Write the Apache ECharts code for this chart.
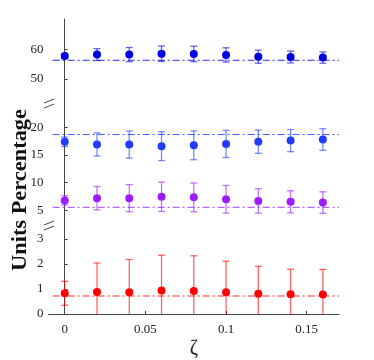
<!DOCTYPE html>
<html><head><meta charset="utf-8">
<script src="https://cdn.jsdelivr.net/npm/echarts@6/dist/echarts.min.js"></script>
<style>html,body{margin:0;padding:0;background:#fff}#c{width:374px;height:360px}</style>
</head><body><div id="c"></div>
<script>
const zeta = [0, 0.02, 0.04, 0.06, 0.08, 0.10, 0.12, 0.14, 0.16];
const topMean = [57.7, 58.2, 58.2, 58.5, 58.4, 58.1, 57.5, 57.4, 57.2];
const topErr  = [0.8, 2.0, 2.4, 2.6, 2.6, 2.4, 2.2, 2.0, 1.9];
const midMean = [17.4, 16.9, 16.9, 16.6, 16.75, 17.0, 17.4, 17.6, 17.8];
const midErr  = [0.85, 2.1, 2.45, 2.6, 2.6, 2.45, 2.1, 2.0, 1.95];
const purMean = [6.8, 7.2, 7.2, 7.45, 7.35, 7.0, 6.7, 6.55, 6.4];
const purErr  = [0.85, 2.1, 2.45, 2.65, 2.6, 2.5, 2.2, 2.0, 1.95];
const redMean = [0.83, 0.88, 0.87, 0.94, 0.92, 0.87, 0.81, 0.79, 0.78];
const redErr  = [0.48, 1.16, 1.31, 1.41, 1.41, 1.24, 1.1, 1.0, 1.0];
const refTop = 56.3, refMid = 18.7, refPur = 5.55, refRed = 0.72;
const xTicks = [0, 0.05, 0.1, 0.15];
const yTicksTop = [50, 60];
const yTicksMid = [5, 10, 15, 20];
const yTicksBot = [0, 1, 2, 3];
const xRefRange = [-0.0075, 0.17];

const colTop = '#0000e6', colMid = '#1f3cff', colPur = '#9b1cff', colRed = '#ff0000';
const serif = 'Liberation Serif, Times New Roman, serif';
const axisCol = '#444';

const yRanges = [[41.9, 70.2], [2.35, 24.4], [0, 3.56]];

function yAxis(idx, ticks) {
  return {
    type: 'value', gridIndex: idx, min: yRanges[idx][0], max: yRanges[idx][1],
    splitLine: {show: false},
    axisLine: {show: true, lineStyle: {color: axisCol, width: 1}},
    axisTick: {show: true, inside: true, length: 3, customValues: ticks, lineStyle: {color: axisCol}},
    axisLabel: {customValues: ticks, fontFamily: serif, fontSize: 13, color: '#222', margin: 5}
  };
}
function xAxis(idx, show) {
  return {
    type: 'value', gridIndex: idx, min: -0.01, max: 0.17,
    splitLine: {show: false},
    axisLine: {show: show, onZero: false, lineStyle: {color: axisCol, width: 1}},
    axisTick: {show: show, inside: true, length: 3, customValues: xTicks, lineStyle: {color: axisCol}},
    axisLabel: {show: show, customValues: xTicks, fontFamily: serif, fontSize: 13, color: '#222', margin: 9,
      formatter: v => String(v)},
    name: show ? 'ζ' : '', nameLocation: 'middle', nameGap: 25,
    nameTextStyle: {fontFamily: serif, fontSize: 20, color: '#222'}
  };
}
function errSeries(idx, mean, err, col) {
  const data = zeta.map((x, i) => [x, mean[i] - err[i], mean[i] + err[i]]);
  const ymin = yRanges[idx][0];
  return {
    type: 'custom', xAxisIndex: idx, yAxisIndex: idx, z: 2, data: data,
    renderItem: function (params, api) {
      const x = api.value(0); let lo = api.value(1); const hi = api.value(2);
      const clipped = lo < ymin; if (clipped) lo = ymin;
      const p1 = api.coord([x, hi]), p2 = api.coord([x, lo]);
      const w = 3.5;
      const st = {stroke: col, lineWidth: 1.3, opacity: 0.6};
      const ch = [
        {type: 'line', shape: {x1: p1[0], y1: p1[1], x2: p2[0], y2: p2[1]}, style: st},
        {type: 'line', shape: {x1: p1[0] - w, y1: p1[1], x2: p1[0] + w, y2: p1[1]}, style: st}
      ];
      if (!clipped) ch.push({type: 'line', shape: {x1: p2[0] - w, y1: p2[1], x2: p2[0] + w, y2: p2[1]}, style: st});
      return {type: 'group', children: ch};
    }
  };
}
function ptSeries(idx, mean, col) {
  return {type: 'scatter', xAxisIndex: idx, yAxisIndex: idx, z: 5, symbol: 'circle', symbolSize: 8,
    itemStyle: {color: col, opacity: 1}, data: zeta.map((x, i) => [x, mean[i]])};
}
function refSeries(idx, v, col) {
  return {type: 'line', xAxisIndex: idx, yAxisIndex: idx, z: 1, symbol: 'none', silent: true,
    lineStyle: {color: col, width: 1, type: [7, 3, 2, 3], opacity: 0.85},
    data: xRefRange.map(x => [x, v])};
}

const grids = [
  {left: 48.6, width: 290.4, top: 19, height: 84},
  {left: 48.6, width: 290.4, top: 103, height: 122},
  {left: 48.6, width: 290.4, top: 225, height: 95.3}
];

function brk(y) {
  return {type: 'line', shape: {x1: 44, y1: y + 2, x2: 54, y2: y - 2}, style: {stroke: axisCol, lineWidth: 1}, z: 100};
}

const chart = echarts.init(document.getElementById('c'), null, {renderer: 'canvas'});
chart.setOption({
  animation: false,
  backgroundColor: '#fff',
  grid: grids,
  xAxis: [xAxis(0, false), xAxis(1, false), xAxis(2, true)],
  yAxis: [yAxis(0, yTicksTop), yAxis(1, yTicksMid), yAxis(2, yTicksBot)],
  series: [
    refSeries(0, refTop, colTop), errSeries(0, topMean, topErr, colTop), ptSeries(0, topMean, colTop),
    refSeries(1, refMid, colMid), errSeries(1, midMean, midErr, colMid), ptSeries(1, midMean, colMid),
    refSeries(1, refPur, colPur), errSeries(1, purMean, purErr, colPur), ptSeries(1, purMean, colPur),
    refSeries(2, refRed, colRed), errSeries(2, redMean, redErr, colRed), ptSeries(2, redMean, colRed)
  ],
  graphic: [
    brk(101), brk(106), brk(223), brk(228),
    {type: 'text', x: 21, y: 190, rotation: Math.PI / 2, scaleX: 1.12, z: 100,
      style: {text: 'Units Percentage', fontFamily: serif, fontWeight: 'bold', fontSize: 20,
        fill: '#111', textAlign: 'center', textVerticalAlign: 'middle'}}
  ]
});
</script></body></html>
